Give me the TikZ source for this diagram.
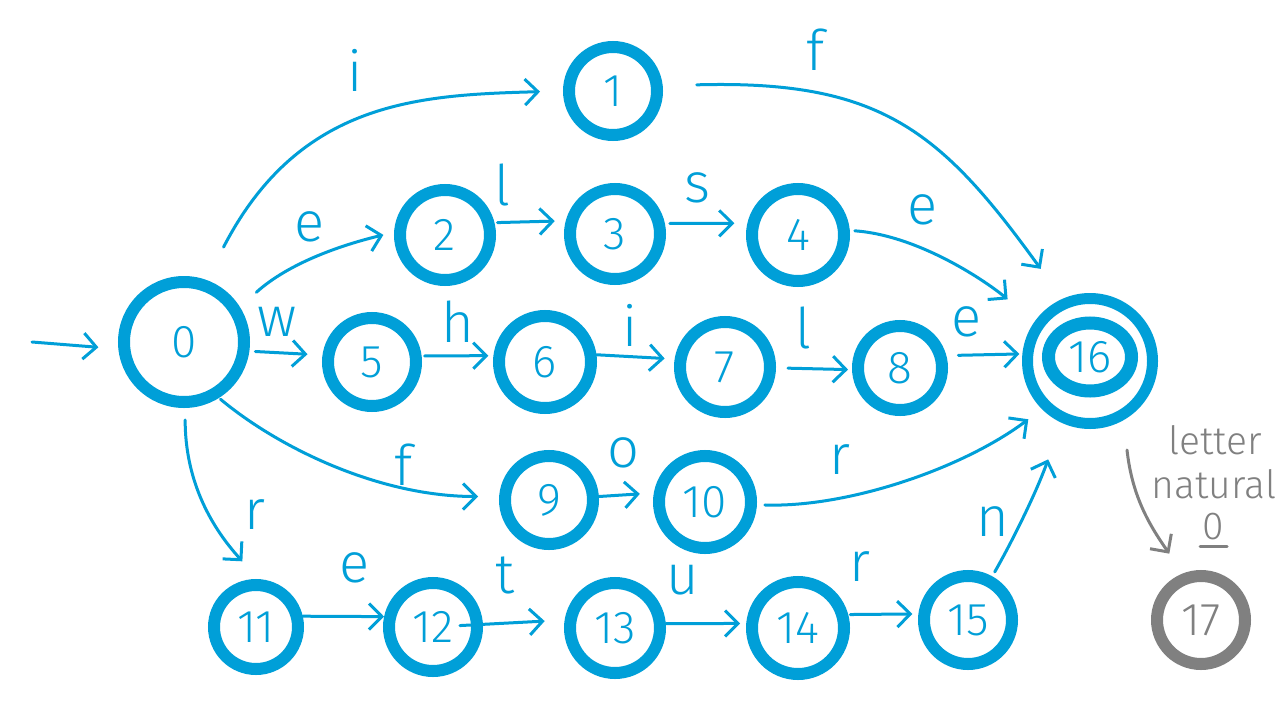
\documentclass[tikz,border=0pt]{standalone}
\usepackage{fontspec}
\IfFontExistsTF{Fira Sans Light}
  {\newfontfamily\handfont{Fira Sans Light}}
  {\newfontfamily\handfont{Fira Sans}}
\usetikzlibrary{arrows.meta,shapes.geometric}
\definecolor{ink}{RGB}{0,159,216}
\definecolor{pencil}{RGB}{128,128,128}
\begin{document}
\begin{tikzpicture}[x=1pt,y=1pt,
  state/.style={circle,draw=ink,line width=12pt,inner sep=0pt,text=ink,
    font=\handfont\fontsize{46}{52}\selectfont},
  sym/.style={inner sep=0pt,text=ink,font=\handfont\fontsize{56}{62}\selectfont},
  note/.style={inner sep=0pt,text=pencil,font=\handfont\fontsize{39}{44}\selectfont},
  trans/.style={draw=ink,line width=3pt,line cap=round,line join=round,
    -{Straight Barb[length=13pt,width=26pt]}},
]
\fill[white] (0,0) rectangle (1280,-720);
\useasboundingbox (0,0) rectangle (1280,-720);

% states
\node[state,minimum size=120pt] (q0)  at (184,-342)  {0};
\node[state,minimum size=88pt]  (q1)  at (613,-91)   {1};
\node[state,minimum size=90pt]  (q2)  at (445,-235)  {2};
\node[state,minimum size=90pt]  (q3)  at (615,-234)  {3};
\node[state,minimum size=92pt]  (q4)  at (798,-235)  {4};
\node[state,minimum size=88pt]  (q5)  at (372,-362)  {5};
\node[state,minimum size=92pt]  (q6)  at (545,-362)  {6};
\node[state,minimum size=90pt]  (q7)  at (725,-367)  {7};
\node[state,minimum size=84pt]  (q8)  at (900,-368)  {8};
\node[state,minimum size=88pt]  (q9)  at (549,-500)  {9};
\node[state,minimum size=92pt]  (q10) at (705,-502)  {10};
\node[state,minimum size=84pt]  (q11) at (256,-627)  {11};
\node[state,minimum size=88pt]  (q12) at (433,-627)  {12};
\node[state,minimum size=90pt]  (q13) at (615,-628)  {13};
\node[state,minimum size=92pt]  (q14) at (798,-628)  {14};
\node[state,minimum size=88pt]  (q15) at (968,-620)  {15};
% accepting state: two rings
\node[state,line width=11pt,minimum size=125pt] (q16) at (1090,-361) {};
\node[state,ellipse,line width=13pt,minimum width=83pt,minimum height=68pt] (q16i) at (1090,-357) {16};
\node[state,draw=pencil,text=pencil,minimum size=88pt] (q17) at (1201,-620) {17};

% transitions
\coordinate (entry) at (32,-342);
\draw[trans,shorten >=20pt] (entry) -- (q0.186);
\draw[trans,shorten <=37pt,shorten >=23pt] (q0.70) .. controls +(93,180) and +(-143,-4) .. (q1.west);
\draw[trans,shorten <=34pt,shorten >=37pt] (q1.6) .. controls +(217,6) and +(-122,169) .. (q16.114);
\draw[trans,shorten <=22pt,shorten >=11pt] (q0.32) .. controls +(50,45) and +(-50,-12) .. (q2.177);
\draw[trans,shorten <=3pt,shorten >=11pt] (q2.14) -- (q3.165);
\draw[trans,shorten <=5pt,shorten >=13pt] (q3.12) -- (q4.167);
\draw[trans,shorten <=5pt,shorten >=35pt] (q4.5) .. controls +(70,-5) and +(-46,39) .. (q16.145);
\draw[trans,shorten <=6pt,shorten >=15pt] (q0.-8) -- (q5.172);
\draw[trans,shorten <=3pt,shorten >=5pt] (q5.7) -- (q6.173);
\draw[trans,shorten >=10pt] (q6.8) -- (q7.171);
\draw[trans,shorten <=12pt,shorten >=4pt] (q7.-1) -- (q8.182);
\draw[trans,shorten <=12pt,shorten >=3pt] (q8.15) -- (q16.174);
\draw[trans,shorten <=2pt,shorten >=21pt] (q0.-58) .. controls +(60,-50) and +(-120,0) .. (q9.176);
\draw[trans,shorten >=14pt] (q9.4) -- (q10.170);
\draw[trans,shorten <=8pt,shorten >=17pt] (q10.-3) .. controls +(90,-3) and +(-80,-60) .. (q16.225);
\draw[trans,shorten <=12pt,shorten >=24pt] (q0.-89) .. controls +(0,-70) and +(-50,55) .. (q11.87);
\draw[trans] (q11.13) -- (q12.168);
\draw[trans,shorten <=27pt,shorten >=20pt] (q12.center) -- (q13.171);
\draw[trans,shorten >=6pt] (q13.5) -- (q14.175);
\draw[trans,shorten <=2pt,shorten >=6pt] (q14.15) -- (q15.173);
\draw[trans,shorten <=5pt,shorten >=39pt] (q15.61) .. controls +(20,35) and +(-25,-70) .. (q16.245);
\coordinate (hint) at (1127,-450);
\draw[trans,draw=pencil,shorten >=24pt] (hint) .. controls +(5,-45) and +(-35,50) .. (q17.111);

% transition symbols
\node[sym] (l01)   at (355,-70)  {i};
\node[sym] (l116)  at (815,-50)  {f};
\node[sym] (l02)   at (310,-227) {e};
\node[sym] (l23)   at (502,-185) {l};
\node[sym] (l34)   at (697,-188) {s};
\node[sym] (l416)  at (922,-210) {e};
\node[sym] (l05)   at (277,-322) {w};
\node[sym] (l56)   at (458,-322) {h};
\node[sym] (l67)   at (630,-325) {i};
\node[sym] (l78)   at (803,-328) {l};
\node[sym] (l816)  at (966,-322) {e};
\node[sym] (l09)   at (403,-465) {f};
\node[sym] (l910)  at (623,-453) {o};
\node[sym] (l1016) at (840,-460) {r};
\node[sym] (l011)  at (255,-515) {r};
\node[sym] (l1112) at (355,-568) {e};
\node[sym] (l1213) at (505,-575) {t};
\node[sym] (l1314) at (683,-580) {u};
\node[sym] (l1415) at (860,-567) {r};
\node[sym] (l1516) at (993,-522) {n};

% pencil note
\node[note] (nl) at (1215,-440) {letter};
\node[note] (nn) at (1214,-484) {natural};
\node[note] (nz) at (1213,-527) {0};
\draw[pencil,line width=3pt,line cap=round] ([xshift=-13pt,yshift=-19pt]nz.center) -- ([xshift=14pt,yshift=-19pt]nz.center);
\end{tikzpicture}
\end{document}
